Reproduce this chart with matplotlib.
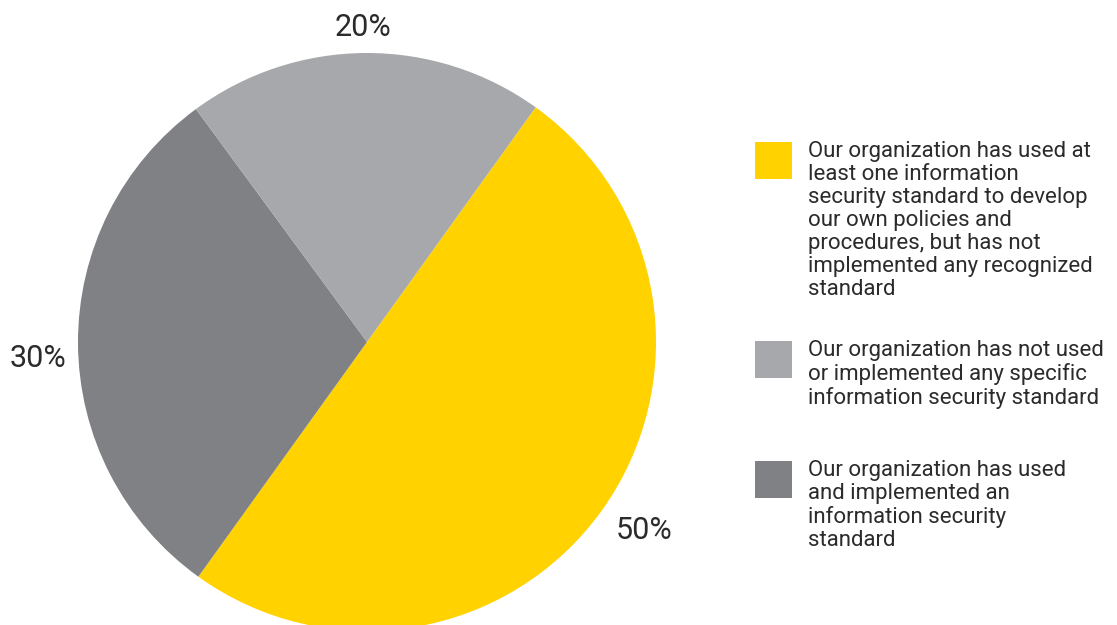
import numpy as np
import matplotlib.pyplot as plt
from matplotlib.patches import Rectangle

# survey shares, listed in legend order
labels = [
    "Our organization has used at\nleast one information\nsecurity standard to develop\nour own policies and\nprocedures, but has not\nimplemented any recognized\nstandard",
    "Our organization has not used\nor implemented any specific\ninformation security standard",
    "Our organization has used\nand implemented an\ninformation security\nstandard",
]
shares = [50, 20, 30]
colors = ["#FFD200", "#A7A8AB", "#808185"]

# slices go clockwise from the upper right: yellow, dark gray, light gray
pie_order = [0, 2, 1]
# percent label placement (pie order): distance in radii, angle nudge in degrees
label_dist = [1.16, 1.139, 1.09]
label_nudge = [1.4, 2.5, 0.4]

plt.rcParams["font.family"] = ["Roboto", "DejaVu Sans"]
text_color = "#2B2B2B"

fig = plt.figure(figsize=(11.17, 6.25), dpi=100)
W, H = 1117, 625
cx, cy, r = 367, 342, 289
ax = fig.add_axes([(cx - r) / W, (H - cy - r) / H, 2 * r / W, 2 * r / H])

wedges, texts = ax.pie(
    [shares[i] for i in pie_order],
    colors=[colors[i] for i in pie_order],
    labels=[f"{shares[i]}%" for i in pie_order],
    startangle=54.3,
    counterclock=False,
    radius=1,
    textprops=dict(fontsize=22, color=text_color),
    wedgeprops=dict(linewidth=0),
)
for w, t, d, nudge in zip(wedges, texts, label_dist, label_nudge):
    mid = np.deg2rad((w.theta1 + w.theta2) / 2 + nudge)
    t.set_position((d * np.cos(mid), d * np.sin(mid)))
    t.set_ha("center")
    t.set_va("center")
    t.set_clip_on(False)
ax.set_xlim(-1, 1)
ax.set_ylim(-1, 1)
ax.axis("off")

# legend drawn by hand: square swatch with wrapped text beside it
box_x, box_size = 755, 37
text_x = 808
tops = [142, 341, 461]
for lab, col, top in zip(labels, colors, tops):
    fig.patches.append(Rectangle((box_x / W, (H - top - box_size) / H), box_size / W, box_size / H,
                                 transform=fig.transFigure, facecolor=col, edgecolor="none"))
    fig.text(text_x / W, (H - top + 1) / H, lab, ha="left", va="top", fontsize=16,
             color=text_color, linespacing=1.12)

fig.savefig("out.png", dpi=100)
